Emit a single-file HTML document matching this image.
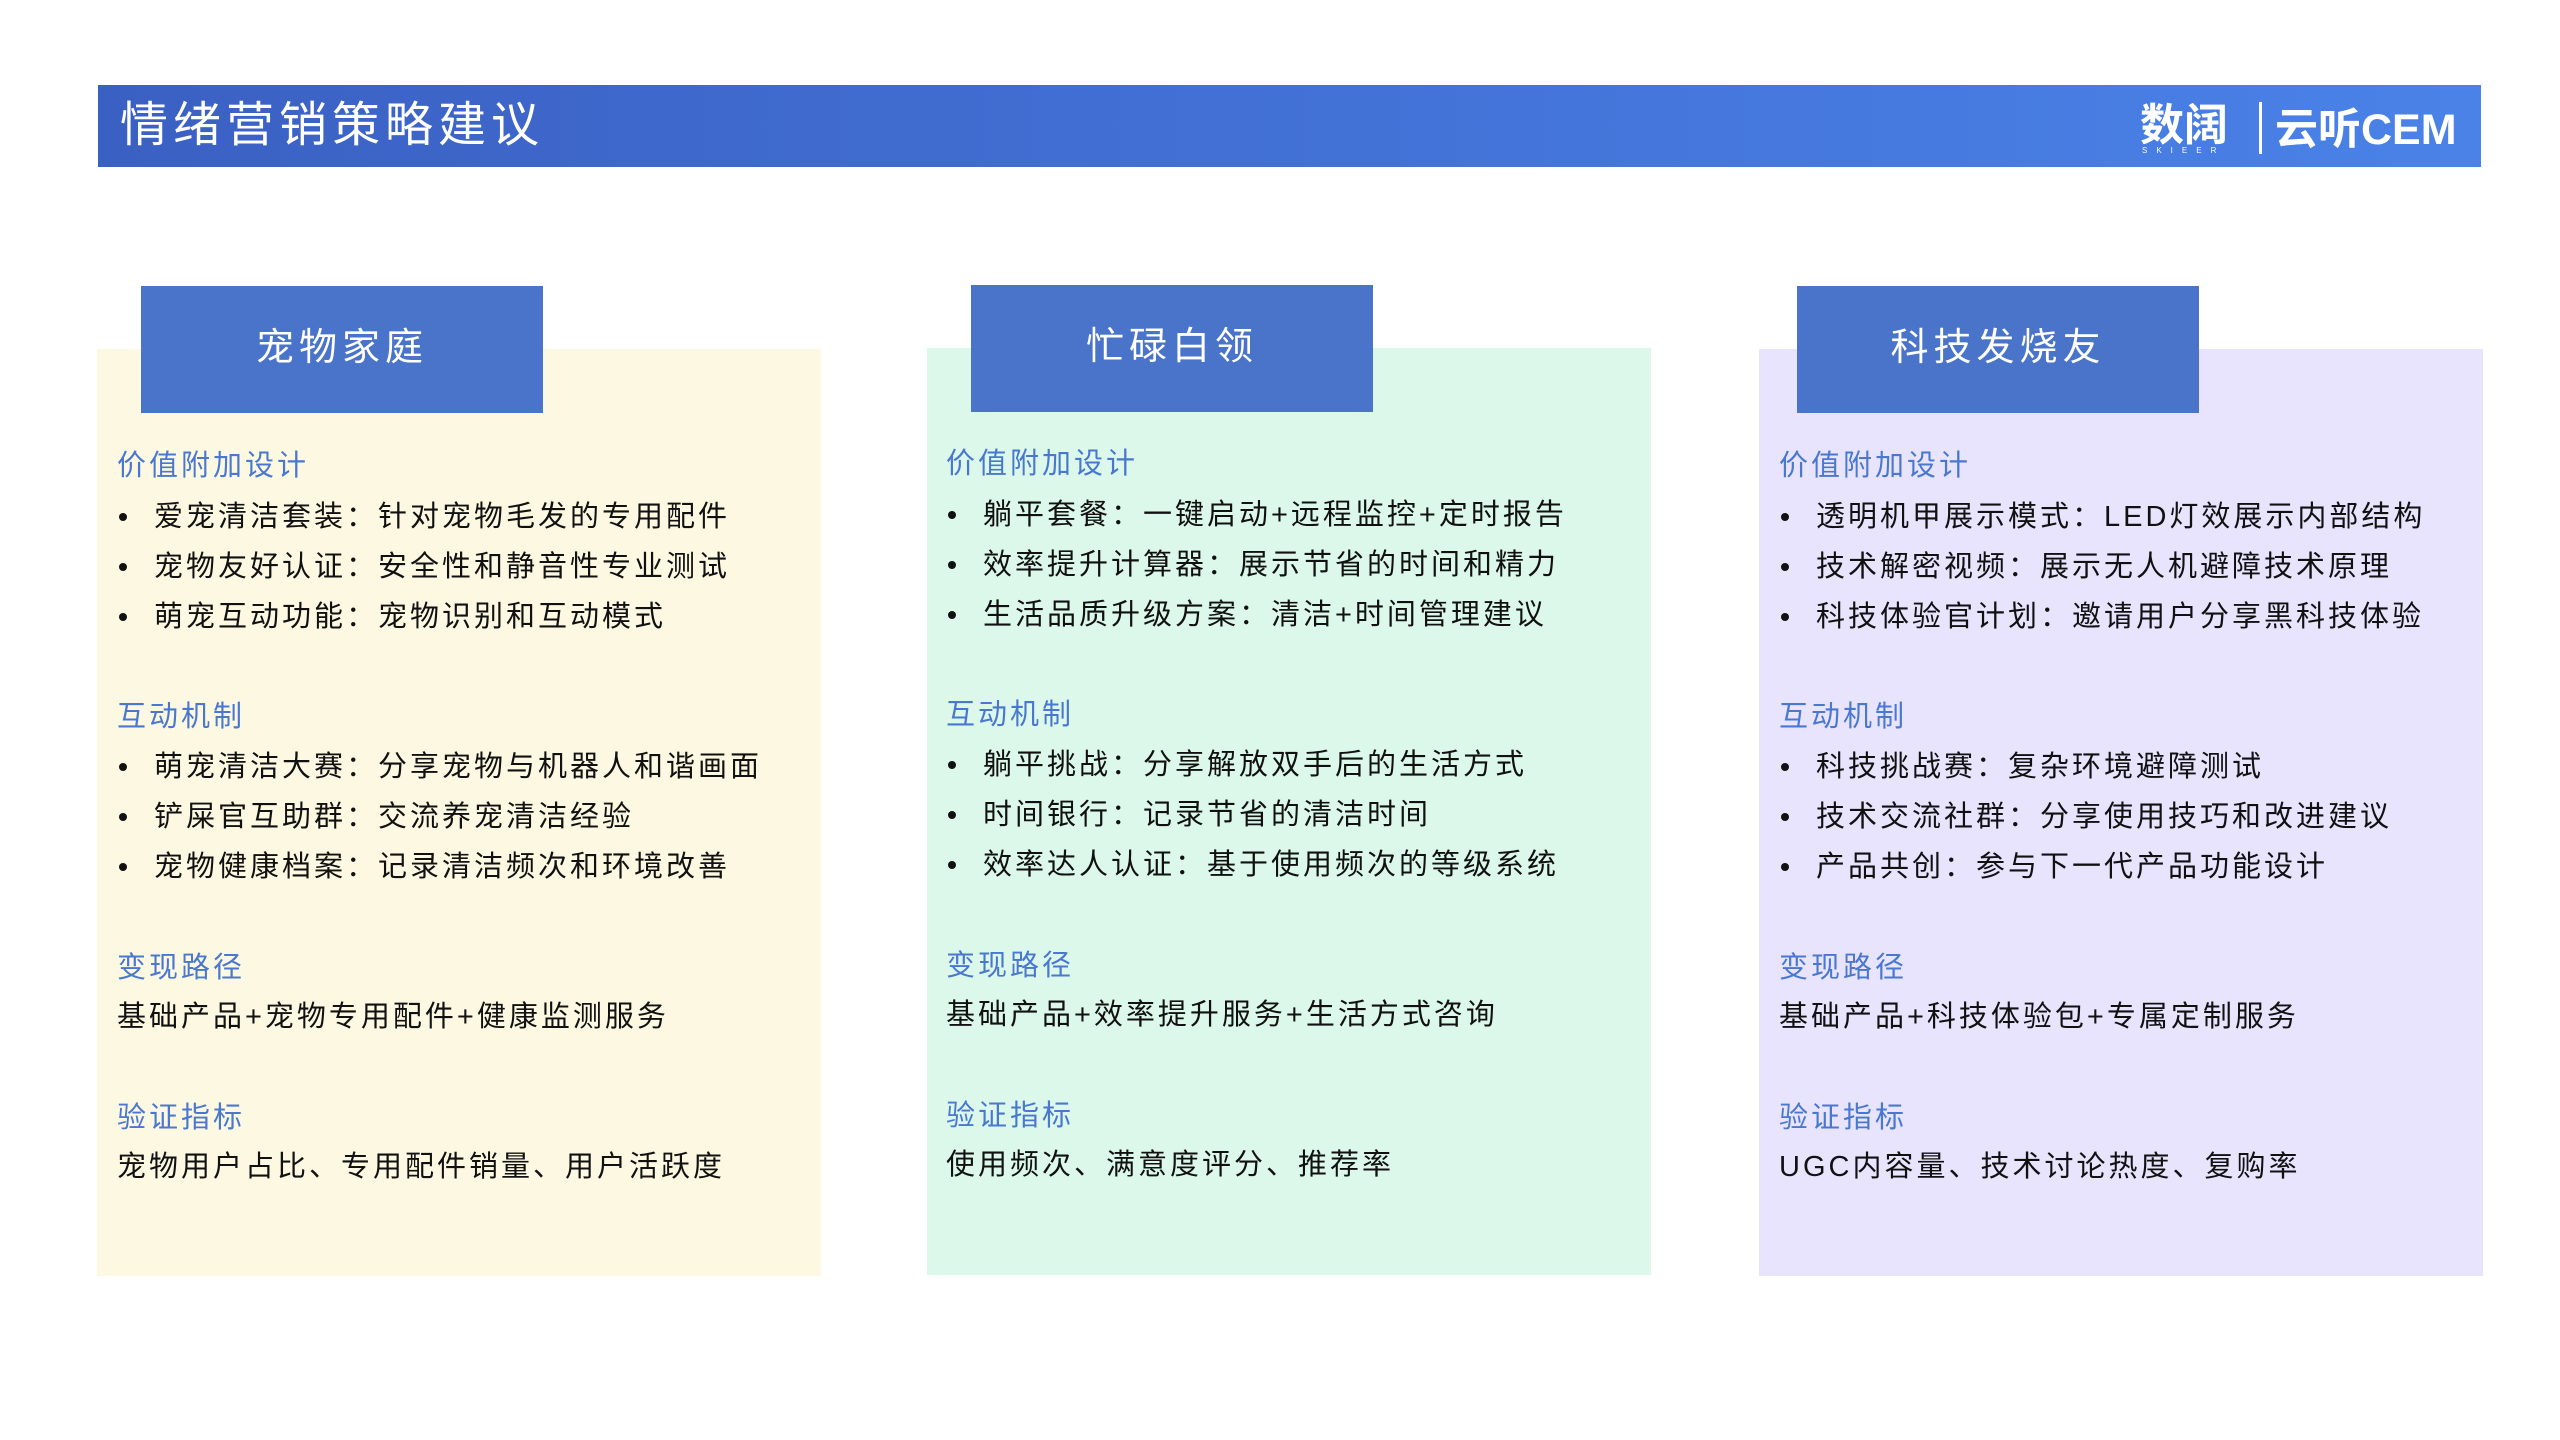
<!DOCTYPE html>
<html><head><meta charset="utf-8"><style>
*{margin:0;padding:0;box-sizing:border-box}
body{width:2560px;height:1440px;background:#fff;position:relative;overflow:hidden;font-family:"Liberation Sans","Noto Sans CJK SC",sans-serif}
.hdr{position:absolute;left:98px;top:85px;width:2383px;height:82px;background:linear-gradient(90deg,#3b60c3,#4a82e8)}
.title{position:absolute;left:120px;top:90px;height:72px;line-height:72px;color:#fff;font-size:48px;letter-spacing:5px}
.logo{position:absolute;left:2140px;top:98px;color:#fff;font-size:44px;font-weight:bold;line-height:56px}
.logo2{position:absolute;left:2275px;top:102px;color:#fff;font-size:43px;font-weight:bold;line-height:56px;letter-spacing:0px}
.sk{position:absolute;left:2142px;top:146px;color:#fff;font-size:8px;letter-spacing:9px}
.bar{position:absolute;left:2259px;top:102px;width:3px;height:52px;background:#fff}
.panel{position:absolute;top:349px;width:724px;height:927px}
.tab{position:absolute;top:286px;width:402px;height:127px;background:#4a74ca;color:#fff;font-size:38px;letter-spacing:5px;text-align:center;line-height:125px}
.h{position:absolute;color:#4a78d0;font-size:29px;letter-spacing:3px;line-height:40px}
.t{position:absolute;color:#111;font-size:29px;letter-spacing:3px;line-height:40px;white-space:nowrap}
.b{position:absolute;width:8px;height:8px;border-radius:50%;background:#111}
</style></head><body>
<div class="hdr"></div>
<div class="title">情绪营销策略建议</div>
<div class="logo">数阔</div><div class="sk">SKIEER</div>
<div class="bar"></div>
<div class="logo2">云听CEM</div>

<div class="panel" style="left:97px;background:#fdf8e1"></div>
<div class="panel" style="left:927px;top:348px;background:#dcf8ea"></div>
<div class="panel" style="left:1759px;background:#e8e4fe"></div>
<div class="tab" style="left:141px">宠物家庭</div>
<div class="tab" style="left:971px;top:285px">忙碌白领</div>
<div class="tab" style="left:1797px">科技发烧友</div>

<!-- col1 -->
<div class="h" style="left:117px;top:446px">价值附加设计</div>
<div class="b" style="left:119px;top:513px"></div><div class="t" style="left:154px;top:497px">爱宠清洁套装：针对宠物毛发的专用配件</div>
<div class="b" style="left:119px;top:563px"></div><div class="t" style="left:154px;top:547px">宠物友好认证：安全性和静音性专业测试</div>
<div class="b" style="left:119px;top:613px"></div><div class="t" style="left:154px;top:597px">萌宠互动功能：宠物识别和互动模式</div>
<div class="h" style="left:117px;top:697px">互动机制</div>
<div class="b" style="left:119px;top:763px"></div><div class="t" style="left:154px;top:747px">萌宠清洁大赛：分享宠物与机器人和谐画面</div>
<div class="b" style="left:119px;top:813px"></div><div class="t" style="left:154px;top:797px">铲屎官互助群：交流养宠清洁经验</div>
<div class="b" style="left:119px;top:863px"></div><div class="t" style="left:154px;top:847px">宠物健康档案：记录清洁频次和环境改善</div>
<div class="h" style="left:117px;top:948px">变现路径</div>
<div class="t" style="left:117px;top:997px">基础产品+宠物专用配件+健康监测服务</div>
<div class="h" style="left:117px;top:1098px">验证指标</div>
<div class="t" style="left:117px;top:1147px">宠物用户占比、专用配件销量、用户活跃度</div>

<!-- col2 -->
<div class="h" style="left:946px;top:444px">价值附加设计</div>
<div class="b" style="left:948px;top:511px"></div><div class="t" style="left:983px;top:495px">躺平套餐：一键启动+远程监控+定时报告</div>
<div class="b" style="left:948px;top:561px"></div><div class="t" style="left:983px;top:545px">效率提升计算器：展示节省的时间和精力</div>
<div class="b" style="left:948px;top:611px"></div><div class="t" style="left:983px;top:595px">生活品质升级方案：清洁+时间管理建议</div>
<div class="h" style="left:946px;top:695px">互动机制</div>
<div class="b" style="left:948px;top:761px"></div><div class="t" style="left:983px;top:745px">躺平挑战：分享解放双手后的生活方式</div>
<div class="b" style="left:948px;top:811px"></div><div class="t" style="left:983px;top:795px">时间银行：记录节省的清洁时间</div>
<div class="b" style="left:948px;top:861px"></div><div class="t" style="left:983px;top:845px">效率达人认证：基于使用频次的等级系统</div>
<div class="h" style="left:946px;top:946px">变现路径</div>
<div class="t" style="left:946px;top:995px">基础产品+效率提升服务+生活方式咨询</div>
<div class="h" style="left:946px;top:1096px">验证指标</div>
<div class="t" style="left:946px;top:1145px">使用频次、满意度评分、推荐率</div>

<!-- col3 -->
<div class="h" style="left:1779px;top:446px">价值附加设计</div>
<div class="b" style="left:1781px;top:513px"></div><div class="t" style="left:1816px;top:497px">透明机甲展示模式：LED灯效展示内部结构</div>
<div class="b" style="left:1781px;top:563px"></div><div class="t" style="left:1816px;top:547px">技术解密视频：展示无人机避障技术原理</div>
<div class="b" style="left:1781px;top:613px"></div><div class="t" style="left:1816px;top:597px">科技体验官计划：邀请用户分享黑科技体验</div>
<div class="h" style="left:1779px;top:697px">互动机制</div>
<div class="b" style="left:1781px;top:763px"></div><div class="t" style="left:1816px;top:747px">科技挑战赛：复杂环境避障测试</div>
<div class="b" style="left:1781px;top:813px"></div><div class="t" style="left:1816px;top:797px">技术交流社群：分享使用技巧和改进建议</div>
<div class="b" style="left:1781px;top:863px"></div><div class="t" style="left:1816px;top:847px">产品共创：参与下一代产品功能设计</div>
<div class="h" style="left:1779px;top:948px">变现路径</div>
<div class="t" style="left:1779px;top:997px">基础产品+科技体验包+专属定制服务</div>
<div class="h" style="left:1779px;top:1098px">验证指标</div>
<div class="t" style="left:1779px;top:1147px">UGC内容量、技术讨论热度、复购率</div>
</body></html>
